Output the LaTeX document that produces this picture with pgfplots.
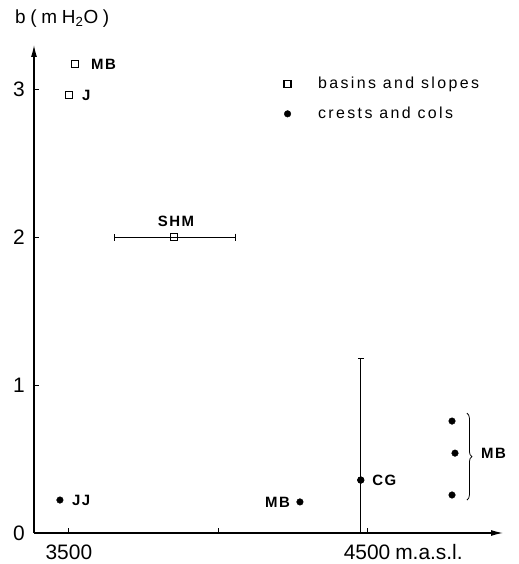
\documentclass[border=0pt]{standalone}
\usepackage{fontspec}
\setmainfont{Liberation Sans}
\newfontfamily\spaced{Liberation Sans}[LetterSpace=15]
\newfontfamily\labfont{Liberation Sans}[LetterSpace=10]
\newfontfamily\wide{Liberation Sans}[LetterSpace=25]
\usepackage{pgfplots}
\pgfplotsset{compat=1.18}
\usetikzlibrary{arrows.meta,decorations.pathreplacing}
\newcommand{\lab}{\labfont\fontsize{15}{15}\selectfont\bfseries}
\begin{document}
\begin{tikzpicture}
\begin{axis}[
  scale only axis, width=469bp, height=488bp,
  xmin=3383, xmax=4956, ymin=0, ymax=3.30,
  clip=false,
  axis lines=left,
  axis line style={line width=1.1pt, -{Latex[length=12bp,width=6bp]}},
  xtick={3500,4000,4500}, xticklabels={3500,,4500},
  ytick={0,1,2,3},
  tick align=inside, major tick length=5bp,
  tick style={line width=0.9pt, black},
  /pgf/number format/assume math mode=true,
  ticklabel style={font=\fontsize{21}{21}\selectfont},
  x tick label style={anchor=base, inner sep=0pt, yshift=-26bp},
  y tick label style={anchor=east, inner sep=0pt, xshift=-9bp},
  ylabel={b(mH\textsubscript{2}O)},
  ylabel style={rotate=-90, anchor=base west, inner sep=0pt, at={(axis description cs:-0.0405,1.045)}, font=\wide\fontsize{19}{19}\selectfont},
  legend style={at={(axis cs:4211,3.11)}, anchor=north west, draw=none, fill=none,
    font=\spaced\fontsize{16}{16}\selectfont, row sep=13bp, cells={anchor=west},
    /tikz/every odd column/.append style={column sep=25bp}},
  legend cell align=left,
]
% basins and slopes
\addplot[only marks, mark=square, mark size=3.5bp, line width=1.2pt, black]
  coordinates {(3520,3.17) (3500,2.96)};
\addlegendentry{basins and slopes}
% crests and cols
\addplot[only marks, mark=*, mark size=3.3bp, black]
  coordinates {(3470,0.223) (4275,0.21) (4479,0.358) (4785,0.757) (4795,0.54) (4785,0.257)};
\addlegendentry{crests and cols}
% SHM with horizontal error bar
\addplot[only marks, mark=square, mark size=3.5bp, line width=1.2pt, black, forget plot,
  error bars/.cd, x dir=both, x explicit,
  error bar style={line width=0.9pt, black}, error mark options={mark size=3.5bp, rotate=90, line width=0.9pt}]
  coordinates {(3852,2.0) += (208,0) -= (198,0)};
% CG vertical error bar
\addplot[only marks, mark=*, mark size=3.3bp, black, forget plot,
  error bars/.cd, y dir=both, y explicit,
  error bar style={line width=0.9pt, black}, error mark options={mark size=3bp, rotate=90, line width=0.9pt}]
  coordinates {(4479,0.358) += (0,0.822) -= (0,0.358)};
% labels
\node[anchor=west, inner sep=0pt, font=\lab] at (axis cs:3574,3.17) {MB};
\node[anchor=west, inner sep=0pt, font=\lab] at (axis cs:3544,2.96) {J};
\node[anchor=south, inner sep=0pt, font=\lab] at (axis cs:3859,2.07) {SHM};
\node[anchor=west, inner sep=0pt, font=\lab] at (axis cs:3510,0.223) {JJ};
\node[anchor=east, inner sep=0pt, font=\lab] at (axis cs:4242,0.21) {MB};
\node[anchor=west, inner sep=0pt, font=\lab] at (axis cs:4517,0.358) {CG};
\node[anchor=west, inner sep=0pt, font=\lab] at (axis cs:4882,0.54) {MB};
\node[anchor=base west, inner sep=0pt, font=\fontsize{21}{21}\selectfont] at (axis cs:4594,0) [yshift=-26bp] {m.a.s.l.};
\draw[line width=0.8pt, decorate, decoration={brace, amplitude=5bp}]
  (axis cs:4835,0.81) -- (axis cs:4835,0.223);
\end{axis}
\path[use as bounding box] (-34bp,-31bp) rectangle (485bp,533bp);
\end{tikzpicture}
\end{document}
